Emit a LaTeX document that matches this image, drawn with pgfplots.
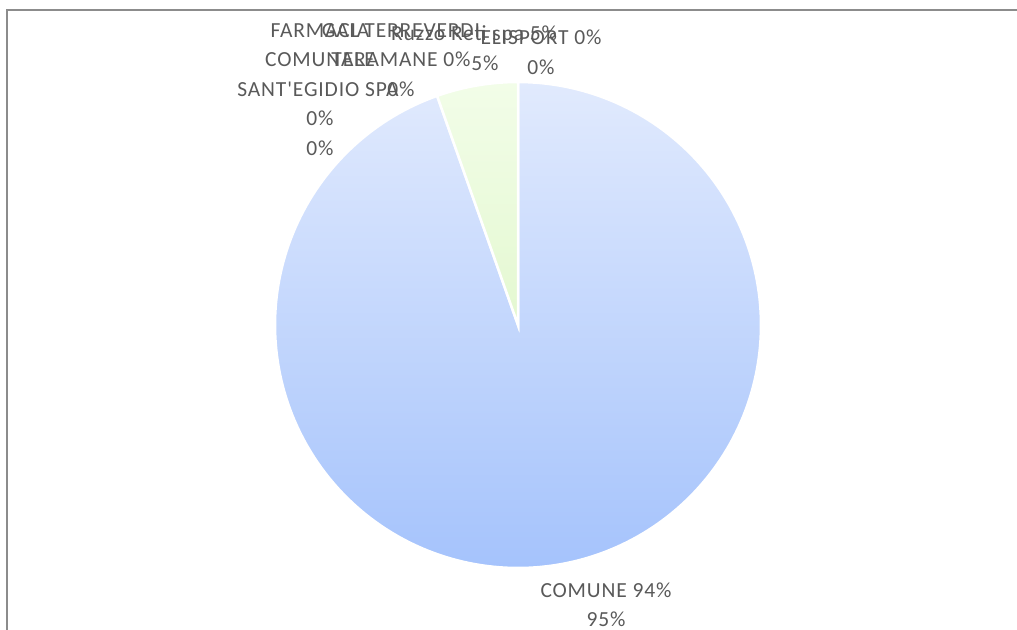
\documentclass[border=0pt]{standalone}
\usepackage{pgfplots}
\pgfplotsset{compat=1.18}
\usepackage{pgfplotstable}
\usepackage{fontspec}
\setmainfont{Carlito}[LetterSpace=4, Ligatures=TeXOff]
\definecolor{lbl}{HTML}{595959}
\definecolor{frame}{HTML}{8C8C8C}
\definecolor{blueT}{HTML}{E1EAFD}
\definecolor{blueB}{HTML}{A5C3FC}
\definecolor{greenT}{HTML}{F2FDE8}
\definecolor{greenB}{HTML}{E4F8D1}
\newcommand\labfont{\fontsize{21.5bp}{26bp}\selectfont}
\tikzset{lab/.style={text=lbl, anchor=base, inner sep=0pt, font=\labfont}}

\pgfplotstableread[col sep=comma]{
name,value
ELISPORT,0.0
COMUNE,94.6
FARMACIA,0.0
GAL,0.0
Ruzzo,5.4
}\piedata

\begin{document}
\begin{tikzpicture}
\pgfplotstablegetelem{0}{value}\of\piedata \let\vA\pgfplotsretval
\pgfplotstablegetelem{1}{value}\of\piedata \let\vB\pgfplotsretval
\pgfplotstablegetelem{2}{value}\of\piedata \let\vC\pgfplotsretval
\pgfplotstablegetelem{3}{value}\of\piedata \let\vD\pgfplotsretval
\pgfplotstablegetelem{4}{value}\of\piedata \let\vE\pgfplotsretval
\pgfmathsetmacro\aStartB{3.6*\vA}
\pgfmathsetmacro\aEndB{3.6*(\vA+\vB)}
\pgfmathsetmacro\aStartE{3.6*(\vA+\vB+\vC+\vD)}
\pgfmathsetmacro\aEndE{3.6*(\vA+\vB+\vC+\vD+\vE)}
\begin{axis}[at={(0,0)}, anchor=south west,
  width=1017bp, height=630bp, scale only axis,
  xmin=0, xmax=1017, ymin=0, ymax=630, y dir=reverse,
  hide axis, clip=false]
\addplot[draw=white, line width=2.5bp, top color=blueT, bottom color=blueB,
  domain=\aStartB:\aEndB, samples=241, variable=\t, no markers]
  ({518+243*sin(\t)},{325-243*cos(\t)}) -- (axis cs:518,325) -- cycle;
\addplot[draw=white, line width=2.5bp, top color=greenT, bottom color=greenB,
  domain=\aStartE:\aEndE, samples=41, variable=\t, no markers]
  ({518+243*sin(\t)},{325-243*cos(\t)}) -- (axis cs:518,325) -- cycle;
% frame
\draw[frame, line width=2bp] (axis cs:7,650) -- (axis cs:7,10) -- (axis cs:1040,10);
% labels
\node[lab] at (axis cs:606,597) {\labfont COMUNE 94\%};
\node[lab] at (axis cs:606,626) {\labfont 95\%};
% FARMACIA COMUNALE SANT'EGIDIO SPA 0%
\node[lab] at (axis cs:320,37) {\labfont FARMACIA};
\node[lab] at (axis cs:320,66.5) {\labfont COMUNALE};
\node[lab] at (axis cs:318,96) {\labfont SANT'EGIDIO SPA};
\node[lab] at (axis cs:320,125.5) {\labfont 0\%};
\node[lab] at (axis cs:320,155) {\labfont 0\%};
% GAL TERREVERDI TERAMANE 0%
\node[lab] at (axis cs:401,37) {\labfont GAL TERREVERDI};
\node[lab] at (axis cs:401,66.5) {\labfont TERAMANE 0\%};
\node[lab] at (axis cs:401,96) {\labfont 0\%};
% Ruzzo Reti spa 5%
\node[lab] at (axis cs:474,40) {\labfont Ruzzo Reti spa 5\%};
\node[lab] at (axis cs:485,70) {\labfont 5\%};
% ELISPORT 0%
\node[lab] at (axis cs:541,44) {\labfont ELISPORT 0\%};
\node[lab] at (axis cs:541,74) {\labfont 0\%};
\end{axis}
\pgfresetboundingbox
\path (0,0) rectangle (1017bp,630bp);
\end{tikzpicture}
\end{document}
